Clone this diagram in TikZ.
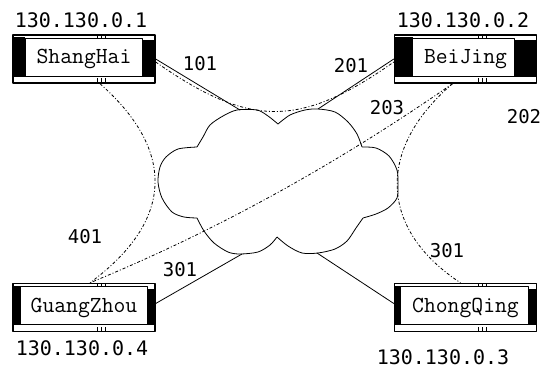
\documentclass[tikz,border=0pt]{standalone}
\usepackage{fontspec}
\newfontfamily\numfont{DejaVu Sans Mono}
\begin{document}
\begin{tikzpicture}[x=1pt,y=-1pt,line join=round,
  router/.style 2 args={draw,line width=1.4pt,minimum width=142pt,minimum height=48pt,inner sep=0pt,
    font=\ttfamily\fontsize{23}{23}\selectfont,
    path picture={
      \fill ([yshift=7pt]path picture bounding box.south west) rectangle ([xshift=#1,yshift=-2pt]path picture bounding box.north west);
      \fill ([yshift=7pt]path picture bounding box.south east) rectangle ([xshift=-#2,yshift=-5pt]path picture bounding box.north east);
      \draw[line width=0.7pt] ([xshift=#1,yshift=7pt]path picture bounding box.south west) rectangle ([xshift=-#2,yshift=-3pt]path picture bounding box.north east);
      \draw[line width=0.8pt] ([yshift=7pt]path picture bounding box.south west) -- ([yshift=7pt]path picture bounding box.south east);
      \foreach \d in {13,17,21} {
        \draw[line width=0.6pt] ([xshift=\d pt]path picture bounding box.south) -- ++(0pt,5pt);
        \draw[line width=0.6pt] ([xshift=\d pt]path picture bounding box.north) -- ++(0pt,-3pt);
      }
    }},
  link/.style={line width=0.8pt},
  pvc/.style={line width=0.8pt,dash pattern=on 3pt off 2pt on 1pt off 2pt},
  ip/.style={font=\numfont\fontsize{20}{20}\selectfont,inner sep=0pt},
  dlci/.style={font=\numfont\fontsize{19}{19}\selectfont,inner sep=0pt}]
\useasboundingbox (0,0) rectangle (544,369);

\node[router={12pt}{13pt}] (sh) at (84,59) {ShangHai};
\node[router={18pt}{22pt}] (bj) at (465.5,59) {BeiJing};
\node[router={7pt}{8pt}] (gz) at (84,307.5) {GuangZhou};
\node[router={6pt}{8pt}] (cq) at (465.5,307.5) {ChongQing};

\node[ip] (ship) at (81,20) {130.130.0.1};
\node[ip] (bjip) at (463,20) {130.130.0.2};
\node[ip] (gzip) at (82,348) {130.130.0.4};
\node[ip] (cqip) at (443,357) {130.130.0.3};

\draw[link] plot[smooth] coordinates {(197,147) (203,137) (210,125) (223,116) (237,110) (257,110) (268,116) (278,124)}
  plot[smooth] coordinates {(278,124) (290,115) (305,110) (318,109) (335,112) (348,122) (357,134) (362,147)}
  plot[smooth] coordinates {(362,147) (376,148) (389,156) (397,170) (398,185) (397,198) (388,208) (376,214) (363,218)}
  plot[smooth] coordinates {(363,218) (356,228) (347,241) (335,249) (318,253) (302,253) (288,246) (277,237)}
  plot[smooth] coordinates {(277,237) (270,245) (258,252) (240,254) (228,252) (214,243) (204,231) (197,218)}
  plot[smooth] coordinates {(197,218) (184,217) (172,212) (162,198) (158,182) (160,167) (166,157) (178,149) (197,147)};

\coordinate (ctl) at (240,110);
\coordinate (ctr) at (318,109);
\coordinate (cbl) at (242,254);
\coordinate (cbr) at (317,253);

\draw[link] (sh.east) -- (ctl);
\draw[link] (bj.west) -- (ctr);
\draw[link] ([yshift=4pt]gz.east) -- (cbl);
\draw[link] ([yshift=4pt]cq.west) -- (cbr);

\draw[pvc] ([yshift=-3pt]sh.east) .. controls (250,128) and (300,128) .. ([yshift=-3pt]bj.west);
\draw[pvc] ([xshift=16pt]sh.south) .. controls (175,150) and (175,220) .. ([xshift=6pt]gz.north);
\draw[pvc] ([xshift=-13pt]bj.south) .. controls (331,168) and (211,233) .. ([xshift=6pt]gz.north);
\draw[pvc] ([xshift=-13pt]bj.south) .. controls (375,150) and (380,230) .. ([xshift=-5pt]cq.north);

\node[dlci] (l101) at (200,64) {101};
\node[dlci] (l201) at (351,66) {201};
\node[dlci] (l203) at (387,108) {203};
\node[dlci] (l202) at (524,117) {202};
\node[dlci] (l401) at (85,237) {401};
\node[dlci] (l301a) at (180,270) {301};
\node[dlci] (l301b) at (447,251) {301};
\end{tikzpicture}
\end{document}
